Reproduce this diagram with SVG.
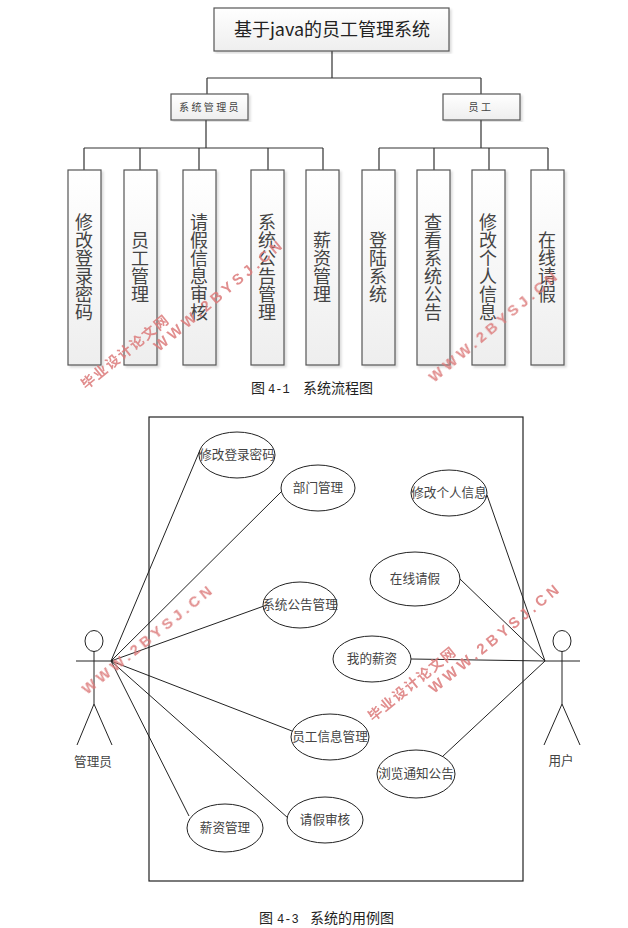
<svg xmlns="http://www.w3.org/2000/svg" width="628" height="928" viewBox="0 0 628 928">
<defs>
<linearGradient id="g" x1="0" y1="0" x2="0" y2="1"><stop offset="0" stop-color="#ffffff"/><stop offset="1" stop-color="#eeeeee"/></linearGradient>
<filter id="s" x="-20%" y="-5%" width="140%" height="110%"><feDropShadow dx="2" dy="2" stdDeviation="1" flood-color="#000" flood-opacity="0.14"/></filter>
</defs>
<style>
text{font-family:"Noto Sans CJK SC","Liberation Sans",sans-serif;fill:#222}
.box{fill:url(#g);stroke:#555;stroke-width:1.2;filter:url(#s)}
.v{font-size:18px;writing-mode:vertical-rl;text-anchor:middle;fill:#444}
.sm{font-size:10px;text-anchor:middle;letter-spacing:2.4px;fill:#444}
.c{stroke:#333;stroke-width:1.2;fill:none}
.u{stroke:#222;stroke-width:1;fill:none}
.e{fill:#fff;stroke:#222;stroke-width:1}
.t{font-size:12.6px;text-anchor:middle;fill:#444}
.cap{font-size:14px;fill:#222}
.m{font-family:"Liberation Mono",monospace;font-size:12px}
.w{font-family:"Liberation Sans",sans-serif;font-weight:bold;font-size:15px;letter-spacing:3.9px;fill:#dc7a7a}
.h{font-weight:bold;font-size:14px;letter-spacing:1.6px;fill:#dc7a7a}
</style>
<g id="connectors">
<path class="c" d="M332 51V78M207 78H481M207 78V94M481 78V94"/>
<path class="c" d="M206 120V148M84 148H323M84 148V170M140 148V170M199 148V170M268 148V170M323 148V170"/>
<path class="c" d="M481 120V148M379 148H548M379 148V170M434 148V170M489 148V170M548 148V170"/>
</g>
<g id="title"><rect class="box" x="214" y="8" width="235" height="43"/><text x="332" y="36" font-size="18" text-anchor="middle" fill="#444">基于java的员工管理系统</text></g>
<g id="admin"><rect class="box" x="171" y="94" width="77" height="26"/><text class="sm" x="210" y="111">系统管理员</text></g>
<g id="staff"><rect class="box" x="443" y="94" width="77" height="26"/><text class="sm" x="481" y="111">员工</text></g>
<g id="n1"><rect class="box" x="68" y="170" width="33" height="195"/><text class="v" x="84" y="267">修改登录密码</text></g>
<g id="n2"><rect class="box" x="124" y="170" width="33" height="195"/><text class="v" x="140" y="267">员工管理</text></g>
<g id="n3"><rect class="box" x="183" y="170" width="33" height="195"/><text class="v" x="199" y="267">请假信息审核</text></g>
<g id="n4"><rect class="box" x="251" y="170" width="33" height="195"/><text class="v" x="267" y="267">系统公告管理</text></g>
<g id="n5"><rect class="box" x="306" y="170" width="33" height="195"/><text class="v" x="322" y="267">薪资管理</text></g>
<g id="n6"><rect class="box" x="362" y="170" width="33" height="195"/><text class="v" x="378" y="267">登陆系统</text></g>
<g id="n7"><rect class="box" x="417" y="170" width="33" height="195"/><text class="v" x="433" y="267">查看系统公告</text></g>
<g id="n8"><rect class="box" x="472" y="170" width="33" height="195"/><text class="v" x="488" y="267">修改个人信息</text></g>
<g id="n9"><rect class="box" x="531" y="170" width="33" height="195"/><text class="v" x="547" y="267">在线请假</text></g>
<text class="cap" x="251" y="393">图<tspan class="m" x="268">4-1</tspan><tspan x="303">系统流程图</tspan></text>

<rect id="boundary" x="149" y="417" width="374" height="464" fill="none" stroke="#222" stroke-width="1.2"/>
<g id="use-connectors">
<path class="u" d="M111 661L200 450M111 661L283 490M111 661L264 606M111 661L292 731M111 661L288 818M111 661L189 816"/>
<path class="u" d="M545 661L487 495M545 661L460 579M545 661L411 659M545 661L442 757"/>
</g>
<g id="u1"><ellipse class="e" cx="237" cy="455" rx="38" ry="23"/><text class="t" x="237" y="459">修改登录密码</text></g>
<g id="u2"><ellipse class="e" cx="318" cy="488" rx="37" ry="23"/><text class="t" x="318" y="492">部门管理</text></g>
<g id="u3"><ellipse class="e" cx="300" cy="605" rx="37" ry="23"/><text class="t" x="300" y="609">系统公告管理</text></g>
<g id="u4"><ellipse class="e" cx="330" cy="737" rx="39" ry="23"/><text class="t" x="330" y="741">员工信息管理</text></g>
<g id="u5"><ellipse class="e" cx="325" cy="820" rx="38" ry="23"/><text class="t" x="325" y="824">请假审核</text></g>
<g id="u6"><ellipse class="e" cx="225" cy="828" rx="38" ry="24"/><text class="t" x="225" y="832">薪资管理</text></g>
<g id="u7"><ellipse class="e" cx="449" cy="493" rx="38" ry="23"/><text class="t" x="449" y="497">修改个人信息</text></g>
<g id="u8"><ellipse class="e" cx="415" cy="579" rx="45" ry="27"/><text class="t" x="415" y="583">在线请假</text></g>
<g id="u9"><ellipse class="e" cx="372" cy="659" rx="39" ry="23"/><text class="t" x="372" y="663">我的薪资</text></g>
<g id="u10"><ellipse class="e" cx="416" cy="774" rx="39" ry="24"/><text class="t" x="416" y="778">浏览通知公告</text></g>
<g id="actor-admin"><ellipse class="e" cx="94" cy="641" rx="9" ry="10.5"/><path class="u" d="M76 661H112M94 651V704L77 745M94 704L112 745"/><text class="t" x="93" y="766">管理员</text></g>
<g id="actor-user"><ellipse class="e" cx="562" cy="641" rx="9" ry="10.5"/><path class="u" d="M545 661H580M562 651V704L544 745M562 704L580 745"/><text class="t" x="561" y="765">用户</text></g>
<text class="cap" x="259" y="923">图<tspan class="m" x="277">4-3</tspan><tspan x="310">系统的用例图</tspan></text>

<g id="watermarks" opacity=".85">
<text class="h" transform="translate(86 390) rotate(-39)">毕业设计论文网</text>
<text class="w" transform="translate(159 352) rotate(-40)">WWW.2BYSJ.CN</text>
<text class="w" transform="translate(87 695) rotate(-39)">WWW.2BYSJ.CN</text>
<text class="w" transform="translate(434 383) rotate(-40)">WWW.2BYSJ.CN</text>
<text class="h" transform="translate(373 722) rotate(-39)">毕业设计论文网</text>
<text class="w" transform="translate(434 694) rotate(-39)">WWW.2BYSJ.CN</text>
</g>
</svg>
